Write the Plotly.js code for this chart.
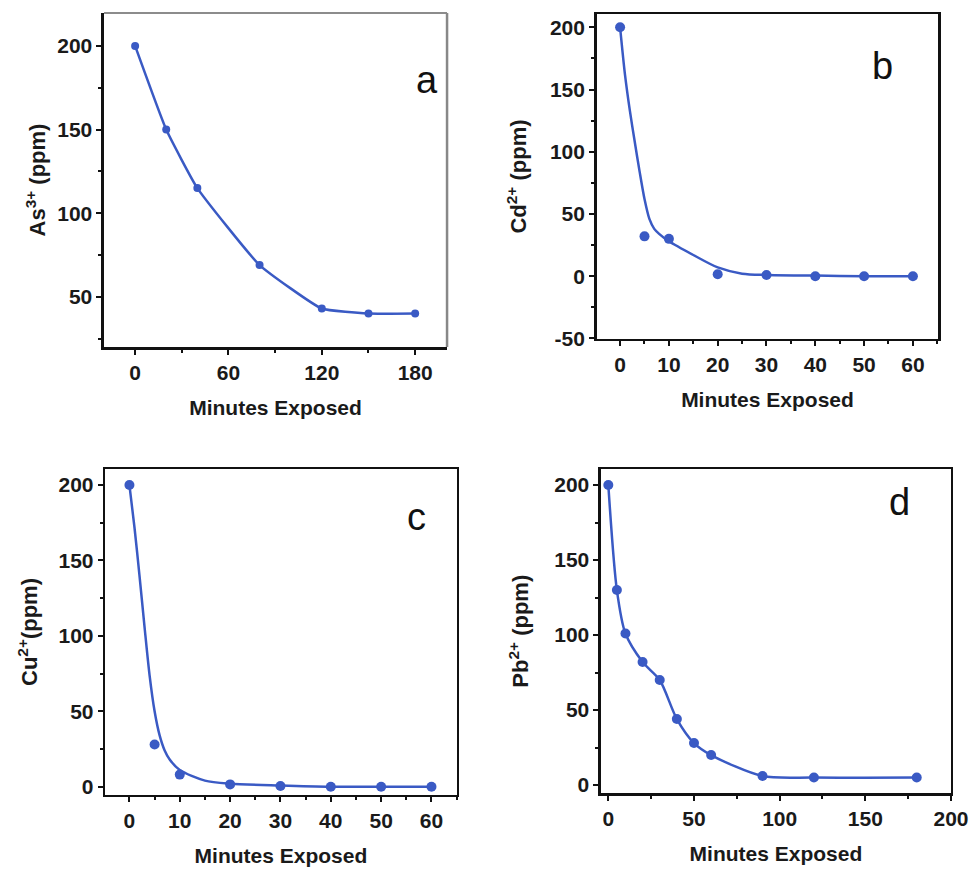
<!DOCTYPE html>
<html>
<head>
<meta charset="utf-8">
<script src="https://cdn.plot.ly/plotly-3.0.1.min.js"></script>
<style>html,body{margin:0;padding:0;background:#fff;}#chart{width:971px;height:871px;}</style>
</head>
<body>
<div id="chart"></div>
<script>
// Panel a: As3+
const asMinutes = [0, 20, 40, 80, 120, 150, 180];
const asPpm = [200, 150, 115, 69, 43, 40, 40];
// Panel b: Cd2+
const cdMinutes = [0, 5, 10, 20, 30, 40, 50, 60];
const cdPpm = [200, 32, 30, 1.5, 1, 0, 0, 0];
const cdFitMinutes = [0, 1, 2, 3, 4, 5, 6, 7, 8, 10, 15, 20, 25, 30, 40, 50, 60];
const cdFitPpm = [200, 162, 133, 108, 84, 62, 46, 38, 34, 28, 17, 7, 2, 1, 0.5, 0, 0];
const cdTickVals = [-50, 0, 50, 100, 150, 200];
const cdTickText = ['-50', '0', '50', '100', '150', '200'];
// Panel c: Cu2+
const cuMinutes = [0, 5, 10, 20, 30, 40, 50, 60];
const cuPpm = [200, 28, 8, 1.5, 0.5, 0, 0, 0];
const cuFitMinutes = [0, 1, 2, 3, 4, 5, 6, 7, 8, 10, 15, 20, 30, 40, 50, 60];
const cuFitPpm = [200, 172, 140, 106, 74, 50, 34, 24, 18, 11, 4, 2, 0.8, 0, 0, 0];
// Panel d: Pb2+
const pbMinutes = [0, 5, 10, 20, 30, 40, 50, 60, 90, 120, 180];
const pbPpm = [200, 130, 101, 82, 70, 44, 28, 20, 6, 5, 5];

const yTitles = ['As<sup>3+</sup> (ppm)', 'Cd<sup>2+</sup> (ppm)', 'Cu<sup>2+</sup>(ppm)', 'Pb<sup>2+</sup> (ppm)'];
const xTitle = 'Minutes Exposed';
const panelLetters = ['a', 'b', 'c', 'd'];

const blue = '#3a5ac4';
const FONT = 'Arial, "Liberation Sans", sans-serif';

const traces = [
  {x: asMinutes, y: asPpm, xaxis: 'x', yaxis: 'y', mode: 'lines+markers',
   line: {color: blue, width: 2.5, shape: 'spline', smoothing: 0.4}, marker: {color: blue, size: 8}},
  {x: cdFitMinutes, y: cdFitPpm, xaxis: 'x2', yaxis: 'y2', mode: 'lines',
   line: {color: blue, width: 2.5, shape: 'spline', smoothing: 0.8}},
  {x: cdMinutes, y: cdPpm, xaxis: 'x2', yaxis: 'y2', mode: 'markers', marker: {color: blue, size: 10}},
  {x: cuFitMinutes, y: cuFitPpm, xaxis: 'x3', yaxis: 'y3', mode: 'lines',
   line: {color: blue, width: 2.5, shape: 'spline', smoothing: 0.8}},
  {x: cuMinutes, y: cuPpm, xaxis: 'x3', yaxis: 'y3', mode: 'markers', marker: {color: blue, size: 10}},
  {x: pbMinutes, y: pbPpm, xaxis: 'x4', yaxis: 'y4', mode: 'lines+markers',
   line: {color: blue, width: 2.5, shape: 'spline', smoothing: 0.8}, marker: {color: blue, size: 10}}
];

function xAxis(domain, range, dtick, mdtick, anchor, standoff, mirror) {
  return {domain: domain, range: range, anchor: anchor, dtick: dtick, tick0: 0,
    showline: true, linecolor: '#111', linewidth: 2.5, mirror: mirror,
    ticks: 'outside', ticklen: 5, tickwidth: 2, tickcolor: '#111',
    minor: {dtick: mdtick, tick0: 0, ticks: 'outside', ticklen: 3, tickwidth: 2, tickcolor: '#111', showgrid: false},
    showgrid: false, zeroline: false,
    tickfont: {family: FONT, size: 21, color: '#1a1a1a', weight: 'bold'},
    title: {text: xTitle, standoff: standoff, font: {family: FONT, size: 21, color: '#1a1a1a', weight: 'bold'}},
    fixedrange: true};
}
function yAxis(domain, range, anchor, title, standoff, mirror) {
  return {domain: domain, range: range, anchor: anchor, dtick: 50, tick0: 0,
    showline: true, linecolor: '#111', linewidth: 2.5, mirror: mirror,
    ticks: 'outside', ticklen: 5, tickwidth: 2, tickcolor: '#111',
    minor: {dtick: 25, tick0: 0, ticks: 'outside', ticklen: 3, tickwidth: 2, tickcolor: '#111', showgrid: false},
    showgrid: false, zeroline: false,
    tickfont: {family: FONT, size: 21, color: '#1a1a1a', weight: 'bold'},
    title: {text: title, standoff: standoff, font: {family: FONT, size: 22, color: '#1a1a1a', weight: 'bold'}},
    fixedrange: true};
}

const yaxis2 = yAxis([0.6108, 0.9839], [-50.5, 210.7], 'x2', yTitles[1], 17, true);
yaxis2.tickmode = 'array';
yaxis2.tickvals = cdTickVals;
yaxis2.ticktext = cdTickText;

const layout = {
  width: 971, height: 871,
  margin: {l: 0, r: 0, t: 0, b: 0},
  paper_bgcolor: '#fff', plot_bgcolor: '#fff',
  showlegend: false,
  xaxis: xAxis([0.1071, 0.4604], [-20, 200.5], 60, 30, 'y', 18, false),
  yaxis: yAxis([0.6016, 0.9851], [20, 219.7], 'x', yTitles[0], 6, false),
  xaxis2: xAxis([0.6145, 0.9663], [-4.8, 65.2], 10, 5, 'y2', 18, true),
  yaxis2: yaxis2,
  xaxis3: xAxis([0.1084, 0.4703], [-4.8, 65], 10, 5, 'y3', 18, true),
  yaxis3: yAxis([0.0873, 0.4615], [-5.5, 210.6], 'x3', yTitles[2], 15, true),
  xaxis4: xAxis([0.6189, 0.9794], [-4.3, 200], 50, 25, 'y4', 18, true),
  yaxis4: yAxis([0.0892, 0.4615], [-5.5, 210.7], 'x4', yTitles[3], 20, true),
  shapes: [
    {type: 'line', xref: 'x domain', yref: 'y domain', x0: 0, x1: 1, y0: 1, y1: 1, line: {color: '#666', width: 1.5}},
    {type: 'line', xref: 'x domain', yref: 'y domain', x0: 1, x1: 1, y0: 0, y1: 1, line: {color: '#888', width: 2.5}}
  ],
  annotations: [
    {text: panelLetters[0], xref: 'paper', yref: 'paper', x: 0.4397, y: 0.9346, showarrow: false, font: {family: FONT, size: 38, color: '#111'}},
    {text: panelLetters[1], xref: 'paper', yref: 'paper', x: 0.9217, y: 0.9506, showarrow: false, font: {family: FONT, size: 38, color: '#111'}},
    {text: panelLetters[2], xref: 'paper', yref: 'paper', x: 0.4291, y: 0.4068, showarrow: false, font: {family: FONT, size: 38, color: '#111'}},
    {text: panelLetters[3], xref: 'paper', yref: 'paper', x: 0.9389, y: 0.4240, showarrow: false, font: {family: FONT, size: 38, color: '#111'}}
  ]
};

Plotly.newPlot('chart', traces, layout, {staticPlot: true, displayModeBar: false});
</script>
</body>
</html>
